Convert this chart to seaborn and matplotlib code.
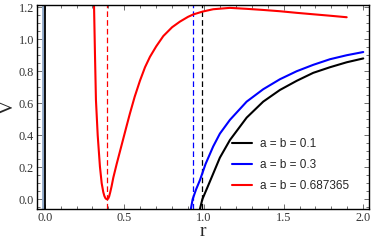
import numpy as np
import pandas as pd
import seaborn as sns
import matplotlib
matplotlib.use("Agg")
import matplotlib.pyplot as plt
from matplotlib.ticker import MultipleLocator, FormatStrFormatter

# values
r_black = [0.975, 0.99, 1.02, 1.058, 1.10, 1.163, 1.268, 1.372, 1.477, 1.582, 1.686, 1.791, 1.896, 2.0]
v_black = [-0.06, 0.0, 0.07, 0.16, 0.26, 0.37, 0.51, 0.61, 0.683, 0.74, 0.79, 0.825, 0.856, 0.88]

r_blue = [0.918, 0.929, 0.95, 0.975, 1.01, 1.058, 1.10, 1.163, 1.268, 1.372, 1.477, 1.582, 1.686, 1.791, 1.896, 2.0]
v_blue = [-0.06, 0.0, 0.06, 0.12, 0.22, 0.33, 0.41, 0.496, 0.61, 0.6875, 0.75, 0.80, 0.84, 0.875, 0.90, 0.92]

r_red = [0.310, 0.316, 0.322, 0.333, 0.347, 0.358, 0.368, 0.375, 0.382, 0.388, 0.393, 0.399, 0.405,
         0.412, 0.420, 0.431, 0.452, 0.473, 0.494, 0.515, 0.535, 0.565, 0.598, 0.63, 0.661, 0.70,
         0.745, 0.80, 0.849, 0.90, 0.933, 0.992, 1.058,
         1.163, 1.268, 1.372, 1.477, 1.582, 1.686, 1.791, 1.896]
v_red = [1.21, 0.90, 0.62, 0.40, 0.204, 0.10, 0.045, 0.020, 0.006, 0.001, 0.0, 0.004, 0.018,
         0.045, 0.08, 0.135, 0.22, 0.30, 0.38, 0.46, 0.535, 0.64, 0.74, 0.825, 0.89, 0.955,
         1.02, 1.075, 1.11, 1.14, 1.155, 1.173, 1.1875,
         1.196, 1.19, 1.183, 1.175, 1.165, 1.156, 1.147, 1.1375]

labels = ["a = b = 0.1", "a = b = 0.3", "a = b = 0.687365"]
colors = ["black", "blue", "red"]
horizons = [0.99, 0.929, 0.393]

sns.set_theme(style="ticks")
plt.rcParams["font.family"] = ["Liberation Serif", "DejaVu Serif"]

fig = plt.figure(figsize=(3.74, 2.46), dpi=100)
ax = fig.add_axes([0.0998, 0.1504, 0.8868, 0.8293])

# vertical lines at r = 0
ax.axvline(-0.008, color="#8fa8c8", lw=2.0, zorder=1)
ax.axvline(0.004, color="black", lw=1.3, zorder=2)

for x, c in zip(horizons, colors):
    ax.axvline(x, color=c, lw=0.9, ls=(0, (4.5, 2.5)), zorder=1)

curves = [(r_black, v_black), (r_blue, v_blue), (r_red, v_red)]
for (rr, vv), lab, c in zip(curves, labels, colors):
    df = pd.DataFrame({"r": rr, "V": vv})
    sns.lineplot(data=df, x="r", y="V", color=c, lw=1.5, label=lab, ax=ax,
                 estimator=None, sort=False)

ax.set_xlim(-0.046, 2.036)
ax.set_ylim(-0.061, 1.214)
ax.xaxis.set_major_locator(MultipleLocator(0.5))
ax.xaxis.set_minor_locator(MultipleLocator(0.1))
ax.yaxis.set_major_locator(MultipleLocator(0.2))
ax.yaxis.set_minor_locator(MultipleLocator(0.05))
ax.xaxis.set_major_formatter(FormatStrFormatter("%.1f"))
ax.yaxis.set_major_formatter(FormatStrFormatter("%.1f"))
ax.tick_params(which="both", direction="in", top=True, right=True, labelsize=8.8, pad=2.5,
               color="#555555", width=0.6, labelcolor="#333333")
ax.tick_params(which="major", length=3.5)
ax.tick_params(which="minor", length=2)
for s in ax.spines.values():
    s.set_linewidth(1.0)
    s.set_color("black")

ax.set_xlabel("r", fontsize=14, labelpad=-1)
ax.set_ylabel("V", fontsize=14, labelpad=1)

leg = ax.legend(loc="upper left", frameon=False, prop={"family": "Liberation Sans", "size": 8.5},
                handlelength=1.7, handletextpad=0.7, labelspacing=0.75,
                borderpad=0, borderaxespad=0,
                bbox_to_anchor=(0.620, 0.437), bbox_transform=fig.transFigure)

fig.savefig("out.png", dpi=100)
